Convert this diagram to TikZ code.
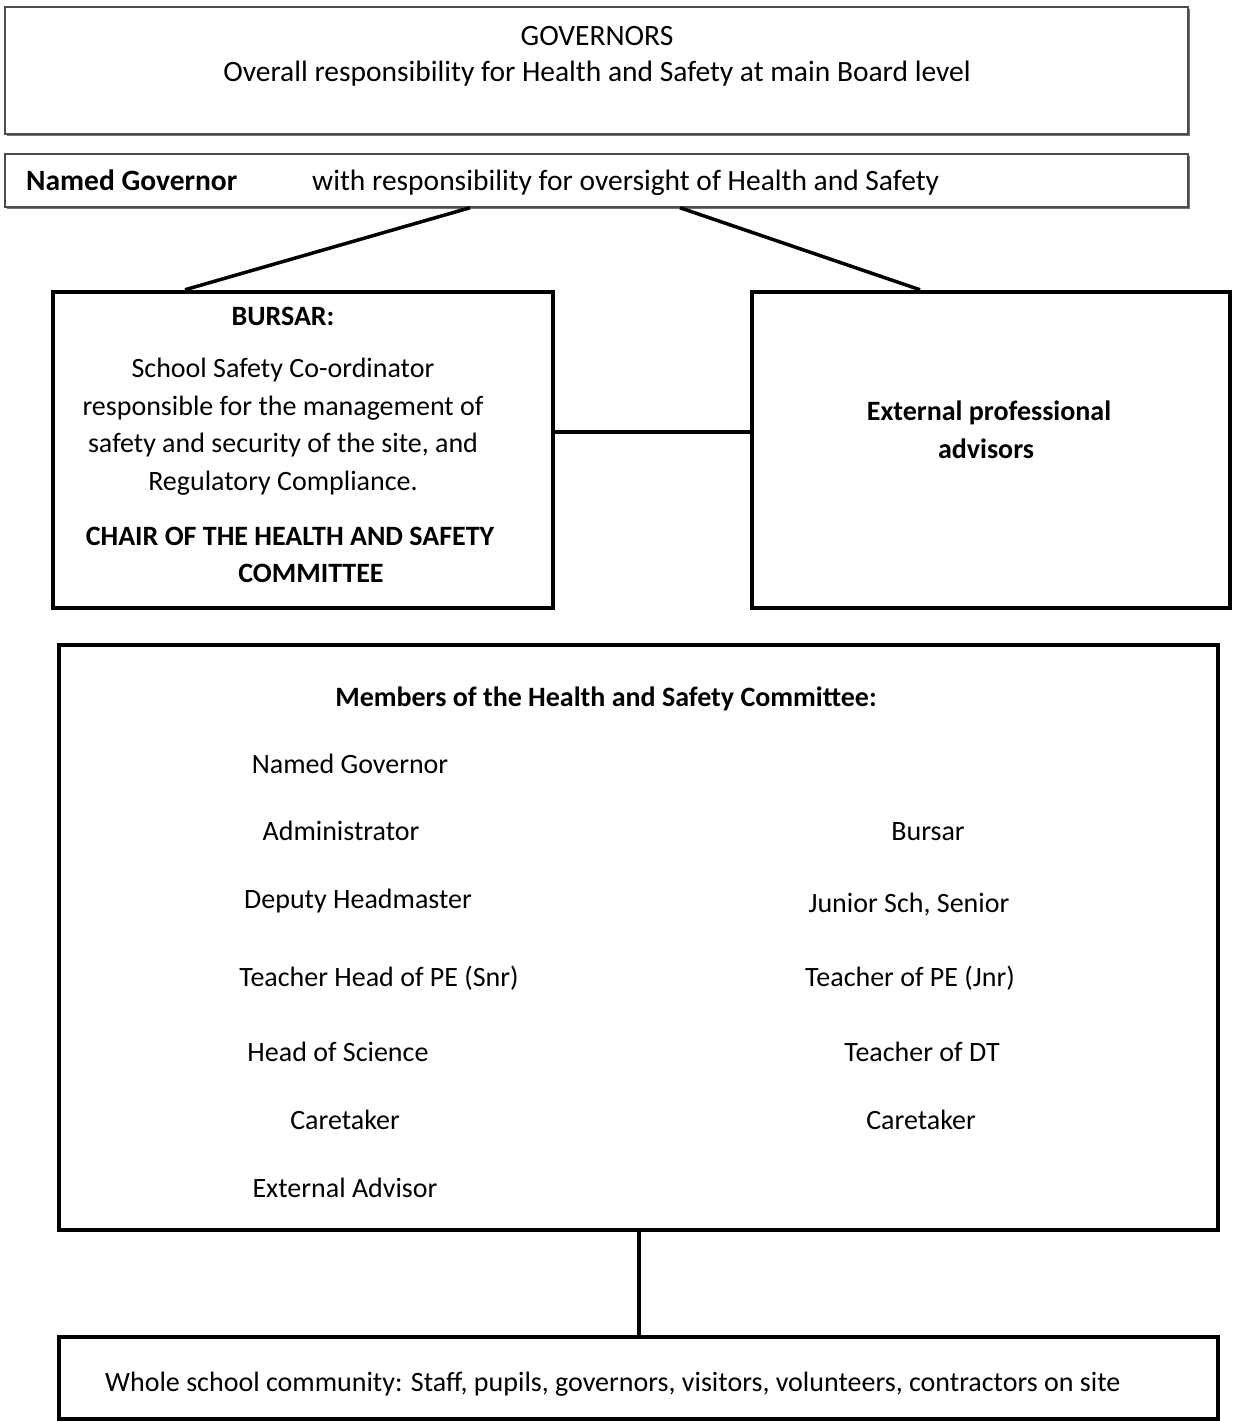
\documentclass[tikz,border=0pt]{standalone}
\usepackage{fontspec}
\setmainfont{Carlito}
\usetikzlibrary{calc,shadows}
\begin{document}
\begin{tikzpicture}[x=1pt,y=-1pt,
  thinbox/.style={draw=black!70, line width=1.5pt, fill=white, inner sep=0pt,
    drop shadow={shadow xshift=1.5pt, shadow yshift=-2pt, fill=black!55, opacity=1}},
  thickbox/.style={draw=black, line width=4.5pt, inner sep=0pt},
  txt/.style={inner sep=0pt, yshift=-7pt, font=\fontsize{28}{34}\selectfont, text height=0.7em, text depth=0.2em},
  btxt/.style={txt, font=\fontsize{28}{34}\selectfont\bfseries},
  ttxt/.style={inner sep=0pt, yshift=-7pt, font=\fontsize{29.5}{35}\selectfont, text height=0.7em, text depth=0.2em},
  tbtxt/.style={ttxt, font=\fontsize{29.5}{35}\selectfont\bfseries},
  link/.style={draw=black, line width=3.5pt},
  vlink/.style={draw=black, line width=4pt}]
\useasboundingbox (0,0) rectangle (1234,1421);

% boxes
\node[thinbox, minimum width=1183pt, minimum height=127pt] (gov) at (596.5,70.5) {};
\node[thinbox, minimum width=1183pt, minimum height=53pt] (named) at (596.5,180.5) {};
\node[thickbox, minimum width=500pt, minimum height=316pt] (bursar) at (303,450) {};
\node[thickbox, minimum width=478pt, minimum height=316pt] (ext) at (991,450) {};
\node[thickbox, minimum width=1159pt, minimum height=585pt] (members) at (638.5,937.5) {};
\node[thickbox, minimum width=1159pt, minimum height=82pt] (whole) at (638.5,1378) {};

% connectors
\draw[link] ([xshift=-126.5pt]named.south) -- ([xshift=-118pt]bursar.north);
\draw[link] ([xshift=83.5pt]named.south) -- ([xshift=-71pt]ext.north);
\draw[link] ([yshift=18pt]bursar.east) -- ([yshift=18pt]ext.west);
\draw[vlink] (members.south) -- (whole.north);

% governors
\node[ttxt] (t1) at (597,36) {GOVERNORS};
\node[ttxt] (t2) at (597,72) {Overall responsibility for Health and Safety at main Board level};
\node[tbtxt, anchor=west] (t3) at (26,181) {Named Governor};
\node[ttxt, anchor=west] (t4) at (312,181) {with responsibility for oversight of Health and Safety};

% bursar
\node[btxt] (b1) at (283,316) {BURSAR:};
\node[txt] (b2) at (283,368) {School Safety Co-ordinator};
\node[txt] (b3) at (283,406) {responsible for the management of};
\node[txt] (b4) at (283,443) {safety and security of the site, and};
\node[txt] (b5) at (283,481) {Regulatory Compliance.};
\node[btxt] (b6) at (290,536) {CHAIR OF THE HEALTH AND SAFETY};
\node[btxt] (b7) at (311,573) {COMMITTEE};

% external
\node[btxt] (e1) at (989,411) {External professional};
\node[btxt] (e2) at (986,449) {advisors};

% members
\node[btxt] (m0) at (606,697) {Members of the Health and Safety Committee:};
\node[txt] (l1) at (350,764) {Named Governor};
\node[txt] (l2) at (341,831) {Administrator};
\node[txt] (l3) at (358,899) {Deputy Headmaster};
\node[txt] (l4) at (379,977) {Teacher Head of PE (Snr)};
\node[txt] (l5) at (338,1052) {Head of Science};
\node[txt] (l6) at (345,1120) {Caretaker};
\node[txt] (l7) at (345,1188) {External Advisor};
\node[txt] (r1) at (928,831) {Bursar};
\node[txt] (r2) at (909,903) {Junior Sch, Senior};
\node[txt] (r3) at (910,977) {Teacher of PE (Jnr)};
\node[txt] (r4) at (922,1052) {Teacher of DT};
\node[txt] (r5) at (921,1120) {Caretaker};

% whole school
\node[txt, anchor=west] (w1) at (105,1382) {Whole school community: Staff, pupils, governors, visitors, volunteers, contractors on site};
\end{tikzpicture}
\end{document}
